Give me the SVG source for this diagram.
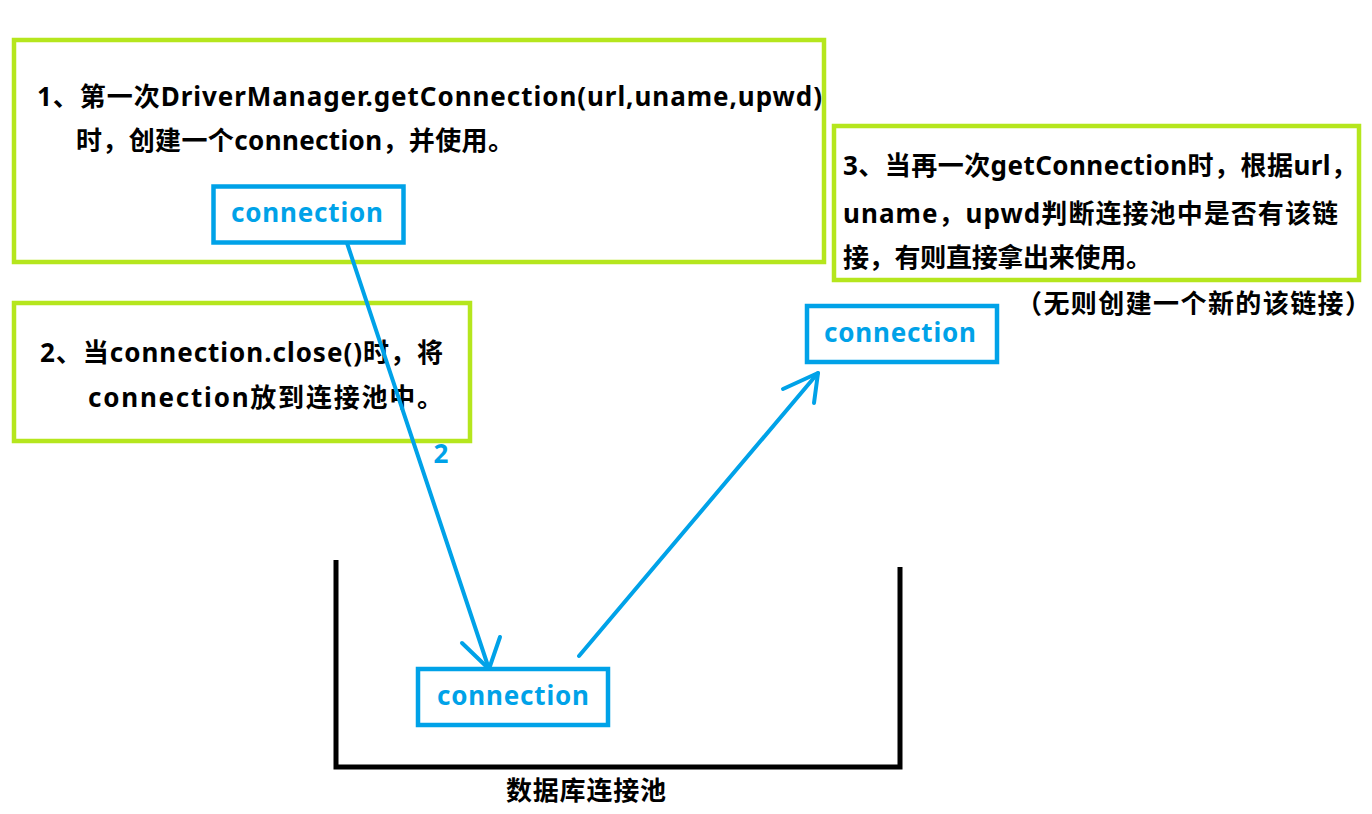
<svg xmlns="http://www.w3.org/2000/svg" width="1372" height="814" viewBox="0 0 1372 814">
<style>
.note{fill:none;stroke:#b5e61d;stroke-width:4.5}
.conn{fill:#fff;stroke:#00a2e8;stroke-width:4.5}
.t{font-family:"Noto Sans","Noto Sans CJK SC",sans-serif;font-weight:bold;fill:#000;font-size:26px}
.ct{font-family:"Noto Sans","Noto Sans CJK SC",sans-serif;font-weight:bold;fill:#00a2e8;font-size:26px;text-anchor:middle}
.edge{fill:none;stroke:#00a2e8;stroke-width:4;stroke-linecap:round;stroke-linejoin:round}
</style>
<rect width="1372" height="814" fill="#fff"/>
<g id="pool">
<path d="M336 560 V767 H900 V567" fill="none" stroke="#000" stroke-width="5"/>
<text class="t" x="506" y="800" textLength="160" lengthAdjust="spacing">数据库连接池</text>
</g>
<g id="note1">
<rect class="note" x="14" y="40" width="810" height="222"/>
<text class="t" x="37" y="106" textLength="785" lengthAdjust="spacing">1、第一次DriverManager.getConnection(url,uname,upwd)</text>
<text class="t" x="76" y="150" textLength="438" lengthAdjust="spacing">时，创建一个connection，并使用。</text>
</g>
<g id="note2">
<rect class="note" x="14" y="303" width="456" height="138"/>
<text class="t" x="40" y="362" textLength="403" lengthAdjust="spacing">2、当connection.close()时，将</text>
<text class="t" x="88" y="407" textLength="355" lengthAdjust="spacing">connection放到连接池中。</text>
</g>
<g id="note3">
<rect class="note" x="834" y="126" width="525" height="154"/>
<text class="t" x="843" y="175" textLength="514" lengthAdjust="spacing">3、当再一次getConnection时，根据url，</text>
<text class="t" x="843" y="223" textLength="495" lengthAdjust="spacing">uname，upwd判断连接池中是否有该链</text>
<text class="t" x="843" y="267" textLength="309" lengthAdjust="spacing">接，有则直接拿出来使用。</text>
<text class="t" x="1016" y="313" textLength="355" lengthAdjust="spacing">（无则创建一个新的该链接）</text>
</g>
<g id="connectors">
<path class="edge" d="M347 243 L489 669"/>
<path class="edge" d="M462 643 L489 669 L500 637"/>
<path class="edge" d="M579 656 L818 373"/>
<path class="edge" d="M783 389 L818 373 L814 403"/>
<text class="ct" x="441" y="463" font-size="21">2</text>
</g>
<g id="conn1">
<rect class="conn" x="213.5" y="186.5" width="190" height="56"/>
<text class="ct" x="307" y="222" textLength="152" lengthAdjust="spacing">connection</text>
</g>
<g id="conn2">
<rect class="conn" x="807" y="306" width="190" height="56"/>
<text class="ct" x="900" y="342" textLength="152" lengthAdjust="spacing">connection</text>
</g>
<g id="conn3">
<rect class="conn" x="418" y="669" width="190" height="56"/>
<text class="ct" x="513" y="705" textLength="152" lengthAdjust="spacing">connection</text>
</g>
</svg>
